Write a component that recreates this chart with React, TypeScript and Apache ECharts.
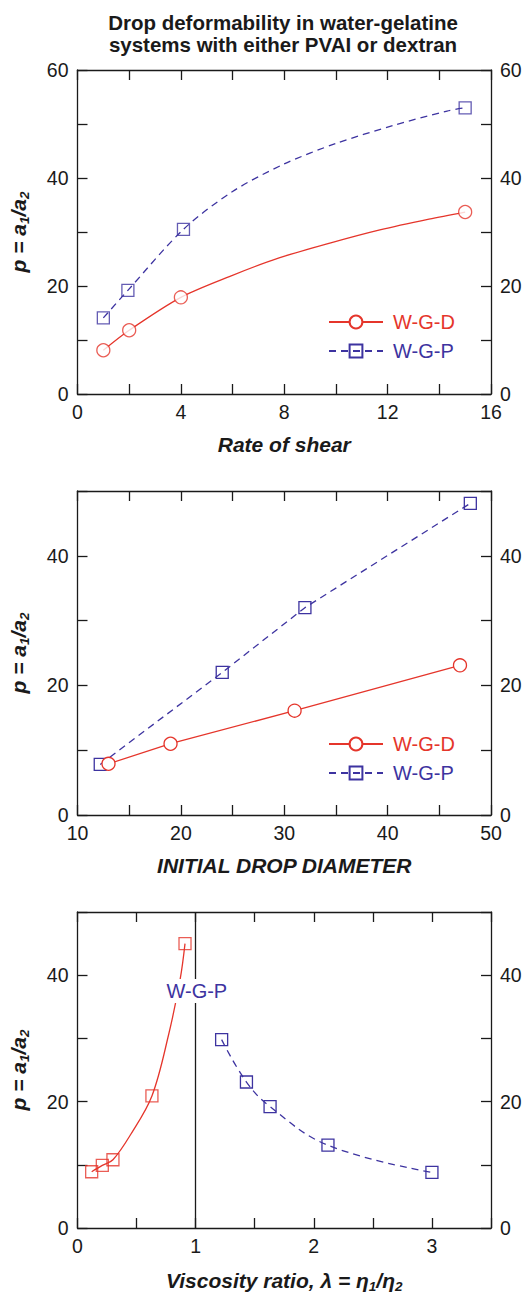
import React, { useEffect, useRef } from "react";
import * as echarts from "echarts";

// ---------- data ----------
const titleText = "Drop deformability in water-gelatine\nsystems with either PVAI or dextran";

// Panel 1: rate of shear (measured points)
const shearD = [1, 2, 4, 15];
const pShearD = [8.1, 11.8, 17.9, 33.7];
const shearP = [1, 1.95, 4.1, 15];
const pShearP = [14.1, 19.2, 30.5, 53];
// Panel 1: fitted curves
const curveShearDx = [1, 2, 4, 5.9, 7.8, 9.8, 11.7, 13.6, 15];
const curveShearDy = [8.1, 11.8, 17.9, 21.8, 25.2, 28.0, 30.4, 32.4, 33.7];
const curveShearPx = [1, 1.95, 4.1, 6, 8, 10, 12.2, 14.3, 15];
const curveShearPy = [14.1, 19.2, 30.5, 37.5, 42.6, 46.4, 49.7, 52.4, 53];

// Panel 2: initial drop diameter
const diamD = [13, 19, 31, 47];
const pDiamD = [7.9, 11, 16.1, 23.1];
const diamP = [12.2, 24, 32, 48];
const pDiamP = [7.8, 22, 32, 48.1];

// Panel 3: viscosity ratio (measured points)
const lamLow = [0.12, 0.21, 0.3, 0.63, 0.91];
const pLamLow = [8.9, 9.9, 10.8, 20.9, 45];
const lamHigh = [1.22, 1.43, 1.63, 2.12, 3.0];
const pLamHigh = [29.8, 23.1, 19.2, 13.1, 8.8];
// Panel 3: fitted curve for λ < 1
const curveLowX = [0.12, 0.21, 0.3, 0.45, 0.63, 0.77, 0.87, 0.91];
const curveLowY = [8.9, 9.9, 10.8, 14.8, 20.9, 30.5, 39.5, 45];
const lamDivider = 1;
const panel3LabelPos = [1.01, 37.5];

const legendNames = ["W-G-D", "W-G-P"];

const RED = "#e5352b";
const BLUE = "#3d33a0";
const INK = "#1a1a1a";
const FONT = "'Liberation Sans', Arial, Helvetica, sans-serif";

const zip = (xs: number[], ys: number[]) => xs.map((x, i) => [x, ys[i]]);

const grids = [
  { left: 77, top: 70, width: 414, height: 324 },
  { left: 77, top: 491, width: 414, height: 324 },
  { left: 77, top: 912, width: 414, height: 321 },
];

const xCfg = [
  { min: 0, max: 16, interval: 2, every: 4, gap: 37, name: "{m|Rate of shear}" },
  { min: 10, max: 50, interval: 5, every: 10, gap: 37, name: "{m|INITIAL DROP DIAMETER}" },
  { min: 0, max: 3.5, interval: 0.5, every: 1, gap: 39, name: "{m|Viscosity ratio, λ = η}{s|1}{m|/η}{s|2}" },
];
const yCfg = [
  { min: 0, max: 60, interval: 10, every: 20 },
  { min: 0, max: 50, interval: 10, every: 20 },
  { min: 0, max: 50, interval: 10, every: 20 },
];

const richName = {
  m: { fontSize: 21, fontWeight: "bold", fontStyle: "italic", fontFamily: FONT, color: INK, lineHeight: 26 },
  s: { fontSize: 13.5, fontWeight: "bold", fontStyle: "italic", fontFamily: FONT, color: INK, lineHeight: 13, verticalAlign: "bottom" },
};

const lineAx = { show: true, onZero: false, lineStyle: { color: INK, width: 1.3 } };
const tickAx = { show: true, inside: true, length: 10, lineStyle: { color: INK, width: 1.3 } };
const TICK_FS = 19.5;

const fmt = (every: number) => (v: number) => {
  const r = v / every;
  return Math.abs(r - Math.round(r)) < 1e-6 ? String(Math.round(v * 100) / 100) : "";
};

function buildOption() {
  const xAxis: any[] = [];
  const yAxis: any[] = [];
  grids.forEach((_, i) => {
    const xc = xCfg[i];
    const yc = yCfg[i];
    xAxis.push({
      type: "value", gridIndex: i, position: "bottom", min: xc.min, max: xc.max, interval: xc.interval,
      axisLine: lineAx, axisTick: tickAx, splitLine: { show: false },
      axisLabel: { color: INK, fontSize: TICK_FS, fontFamily: FONT, margin: 8, formatter: fmt(xc.every) },
      name: xc.name, nameLocation: "middle", nameGap: xc.gap,
      nameTextStyle: { rich: richName, fontFamily: FONT },
    });
    xAxis.push({
      type: "value", gridIndex: i, position: "top", min: xc.min, max: xc.max, interval: xc.interval,
      axisLine: lineAx, axisTick: tickAx, splitLine: { show: false }, axisLabel: { show: false },
    });
    yAxis.push({
      type: "value", gridIndex: i, position: "left", min: yc.min, max: yc.max, interval: yc.interval,
      axisLine: lineAx, axisTick: tickAx, splitLine: { show: false },
      axisLabel: { color: INK, fontSize: TICK_FS, fontFamily: FONT, margin: 9, formatter: fmt(yc.every) },
      name: "{m|p = a}{s|1}{m|/a}{s|2}", nameLocation: "middle", nameGap: 46,
      nameTextStyle: { rich: richName, fontFamily: FONT },
    });
    yAxis.push({
      type: "value", gridIndex: i, position: "right", min: yc.min, max: yc.max, interval: yc.interval,
      axisLine: lineAx, axisTick: tickAx, splitLine: { show: false },
      axisLabel: { color: INK, fontSize: TICK_FS, fontFamily: FONT, margin: 9, formatter: fmt(yc.every) },
    });
  });

  const circleStyle = { color: "#fff", borderColor: RED, borderWidth: 1.3 };
  const squareStyle = (c: string) => ({ color: "rgba(0,0,0,0)", borderColor: c, borderWidth: 1.3 });
  const redLine = { color: RED, width: 1.3, type: "solid" };
  const blueLine = { color: BLUE, width: 1.3, type: [7, 5] };

  const series: any[] = [
    // Panel 1 fitted curves (legend entries)
    {
      type: "line", name: "W-G-D", xAxisIndex: 0, yAxisIndex: 0, data: zip(curveShearDx, curveShearDy),
      smooth: 0.3, showSymbol: false, symbol: "circle", symbolSize: 13,
      itemStyle: circleStyle, lineStyle: redLine, z: 2,
    },
    {
      type: "line", name: "W-G-P", xAxisIndex: 0, yAxisIndex: 0, data: zip(curveShearPx, curveShearPy),
      smooth: 0.3, showSymbol: false, symbol: "rect", symbolSize: 12,
      itemStyle: squareStyle(BLUE), lineStyle: blueLine, z: 2,
    },
    // Panel 1 measured points
    {
      type: "scatter", name: "W-G-D points", xAxisIndex: 0, yAxisIndex: 0, data: zip(shearD, pShearD),
      symbol: "circle", symbolSize: 13, itemStyle: circleStyle, z: 3,
    },
    {
      type: "scatter", name: "W-G-P points", xAxisIndex: 0, yAxisIndex: 0, data: zip(shearP, pShearP),
      symbol: "rect", symbolSize: 12, itemStyle: squareStyle(BLUE), z: 3,
    },
    // Panel 2
    {
      type: "line", name: "W-G-P", xAxisIndex: 2, yAxisIndex: 2, data: zip(diamP, pDiamP),
      symbol: "rect", symbolSize: 12, itemStyle: squareStyle(BLUE), lineStyle: blueLine,
    },
    {
      type: "line", name: "W-G-D", xAxisIndex: 2, yAxisIndex: 2, data: zip(diamD, pDiamD),
      symbol: "circle", symbolSize: 13, itemStyle: circleStyle, lineStyle: redLine,
    },
    // Panel 3
    {
      type: "line", name: "low curve", xAxisIndex: 4, yAxisIndex: 4, data: zip(curveLowX, curveLowY),
      smooth: 0.35, showSymbol: false, symbol: "none", lineStyle: redLine,
      markLine: {
        silent: true, symbol: ["none", "none"], label: { show: false }, z: 3,
        lineStyle: { color: INK, type: "solid", width: 1.3 },
        data: [{ xAxis: lamDivider }],
      },
    },
    {
      type: "scatter", name: "low points", xAxisIndex: 4, yAxisIndex: 4, data: zip(lamLow, pLamLow),
      symbol: "rect", symbolSize: 12, itemStyle: squareStyle(RED),
    },
    {
      type: "line", name: "high", xAxisIndex: 4, yAxisIndex: 4, data: zip(lamHigh, pLamHigh), smooth: 0.4,
      symbol: "rect", symbolSize: 12, itemStyle: squareStyle(BLUE), lineStyle: blueLine,
      markPoint: {
        silent: true, z: 10, symbol: "rect", symbolSize: [68, 24],
        itemStyle: { color: "#fff", borderWidth: 0 },
        label: { show: true, position: "inside", formatter: "W-G-P", color: BLUE, fontSize: 20, fontFamily: FONT },
        data: [{ coord: panel3LabelPos }],
      },
    },
  ];

  const legendCommon = {
    orient: "vertical", left: 328, padding: 0, itemWidth: 54, itemHeight: 16, itemGap: 9, selectedMode: false,
    textStyle: { fontSize: 20, fontFamily: FONT, padding: [0, 0, 0, 5] },
    data: [
      { name: legendNames[0], textStyle: { color: RED } },
      { name: legendNames[1], textStyle: { color: BLUE } },
    ],
  };

  return {
    animation: false,
    backgroundColor: "#fff",
    title: {
      text: titleText, left: 283, top: 11, textAlign: "center", padding: 0,
      textStyle: { fontSize: 20.5, fontWeight: "bold", fontFamily: FONT, color: INK, lineHeight: 22 },
    },
    legend: [
      { ...legendCommon, top: 312 },
      { ...legendCommon, top: 734 },
    ],
    grid: grids,
    xAxis,
    yAxis,
    series,
  };
}

export default function App() {
  const ref = useRef<HTMLDivElement>(null);
  useEffect(() => {
    if (!ref.current) return;
    const chart = echarts.init(ref.current, undefined, { renderer: "svg" });
    chart.setOption(buildOption() as any);
    return () => chart.dispose();
  }, []);
  return <div ref={ref} style={{ position: "absolute", left: 0, top: 0, width: 527, height: 1294 }} />;
}
